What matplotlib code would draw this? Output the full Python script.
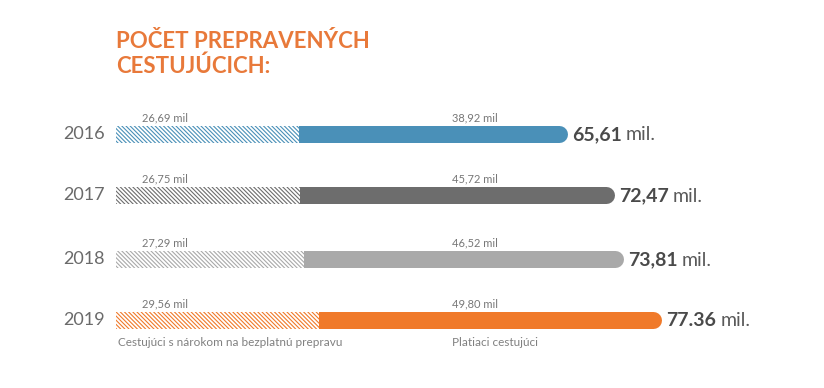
import matplotlib
matplotlib.use("Agg")
import matplotlib.pyplot as plt

plt.rcParams['font.family'] = ['Lato', 'DejaVu Sans']
plt.rcParams['hatch.linewidth'] = 0.8

years = ["2016", "2017", "2018", "2019"]
free = [26.69, 26.75, 27.29, 29.56]
paid = [38.92, 45.72, 46.52, 49.80]
free_labels = ["26,69 mil", "26,75 mil", "27,29 mil", "29,56 mil"]
paid_labels = ["38,92 mil", "45,72 mil", "46,52 mil", "49,80 mil"]
total_labels = ["65,61", "72,47", "73,81", "77.36"]
colors = ["#4a90b8", "#6d6d6d", "#a9a9a9", "#f07a2a"]
title = "POČET PREPRAVENÝCH\nCESTUJÚCICH:"
legend_free = "Cestujúci s nárokom na bezplatnú prepravu"
legend_paid = "Platiaci cestujúci"

W, H = 824, 388
x0 = 116          # pixel where bars start
k = 6.875         # pixels per million
rows = [134, 195, 259, 320]
bar_h = 17

fig = plt.figure(figsize=(W / 100, H / 100), dpi=100)
ax = fig.add_axes([0, 0, 1, 1])
ax.set_xlim(-x0 / k, (W - x0) / k)
ax.set_ylim(H, 0)
ax.axis('off')

cap = (bar_h / 2) / k
lw_pt = bar_h * 0.72
for i, y in enumerate(rows):
    c = colors[i]
    end = free[i] + paid[i]
    ax.barh(y, free[i], height=bar_h, left=0, color='white',
            edgecolor=c, linewidth=0, hatch='\\\\\\\\\\\\\\\\')
    ax.barh(y, paid[i] - cap, height=bar_h, left=free[i], color=c, linewidth=0)
    # rounded right end
    ax.plot([free[i] + cap, end - cap], [y, y], color=c, lw=lw_pt,
            solid_capstyle='round')

    ax.text(-11 / k, y, years[i], ha='right', va='center', fontsize=13,
            color='#6a6a6a')
    ax.text(49 / k, y - bar_h / 2 - 2, free_labels[i], ha='center',
            va='bottom', fontsize=8, color='#777777')
    ax.text(359 / k, y - bar_h / 2 - 2, paid_labels[i], ha='center',
            va='bottom', fontsize=8, color='#777777')

    t = ax.text(end + 5 / k, y + 1, total_labels[i], ha='left',
                va='center', fontsize=14, fontweight='bold', color='#4a4a4a')
    fig.canvas.draw()
    bb = t.get_window_extent()
    xr = ax.transData.inverted().transform((bb.x1, 0))[0]
    ax.text(xr + 4 / k, y + 1, "mil.", ha='left', va='center',
            fontsize=14, color='#5a5a5a')

ax.text(2 / k, 342, legend_free, ha='left', va='center', fontsize=8.5,
        color='#808080')
ax.text(336 / k, 342, legend_paid, ha='left', va='center', fontsize=8.5,
        color='#808080')

ax.text(0, 54, title, ha='left', va='center', fontsize=16,
        fontweight='bold', color='#e8793a', linespacing=1.25)

fig.savefig("out.png", dpi=100)
